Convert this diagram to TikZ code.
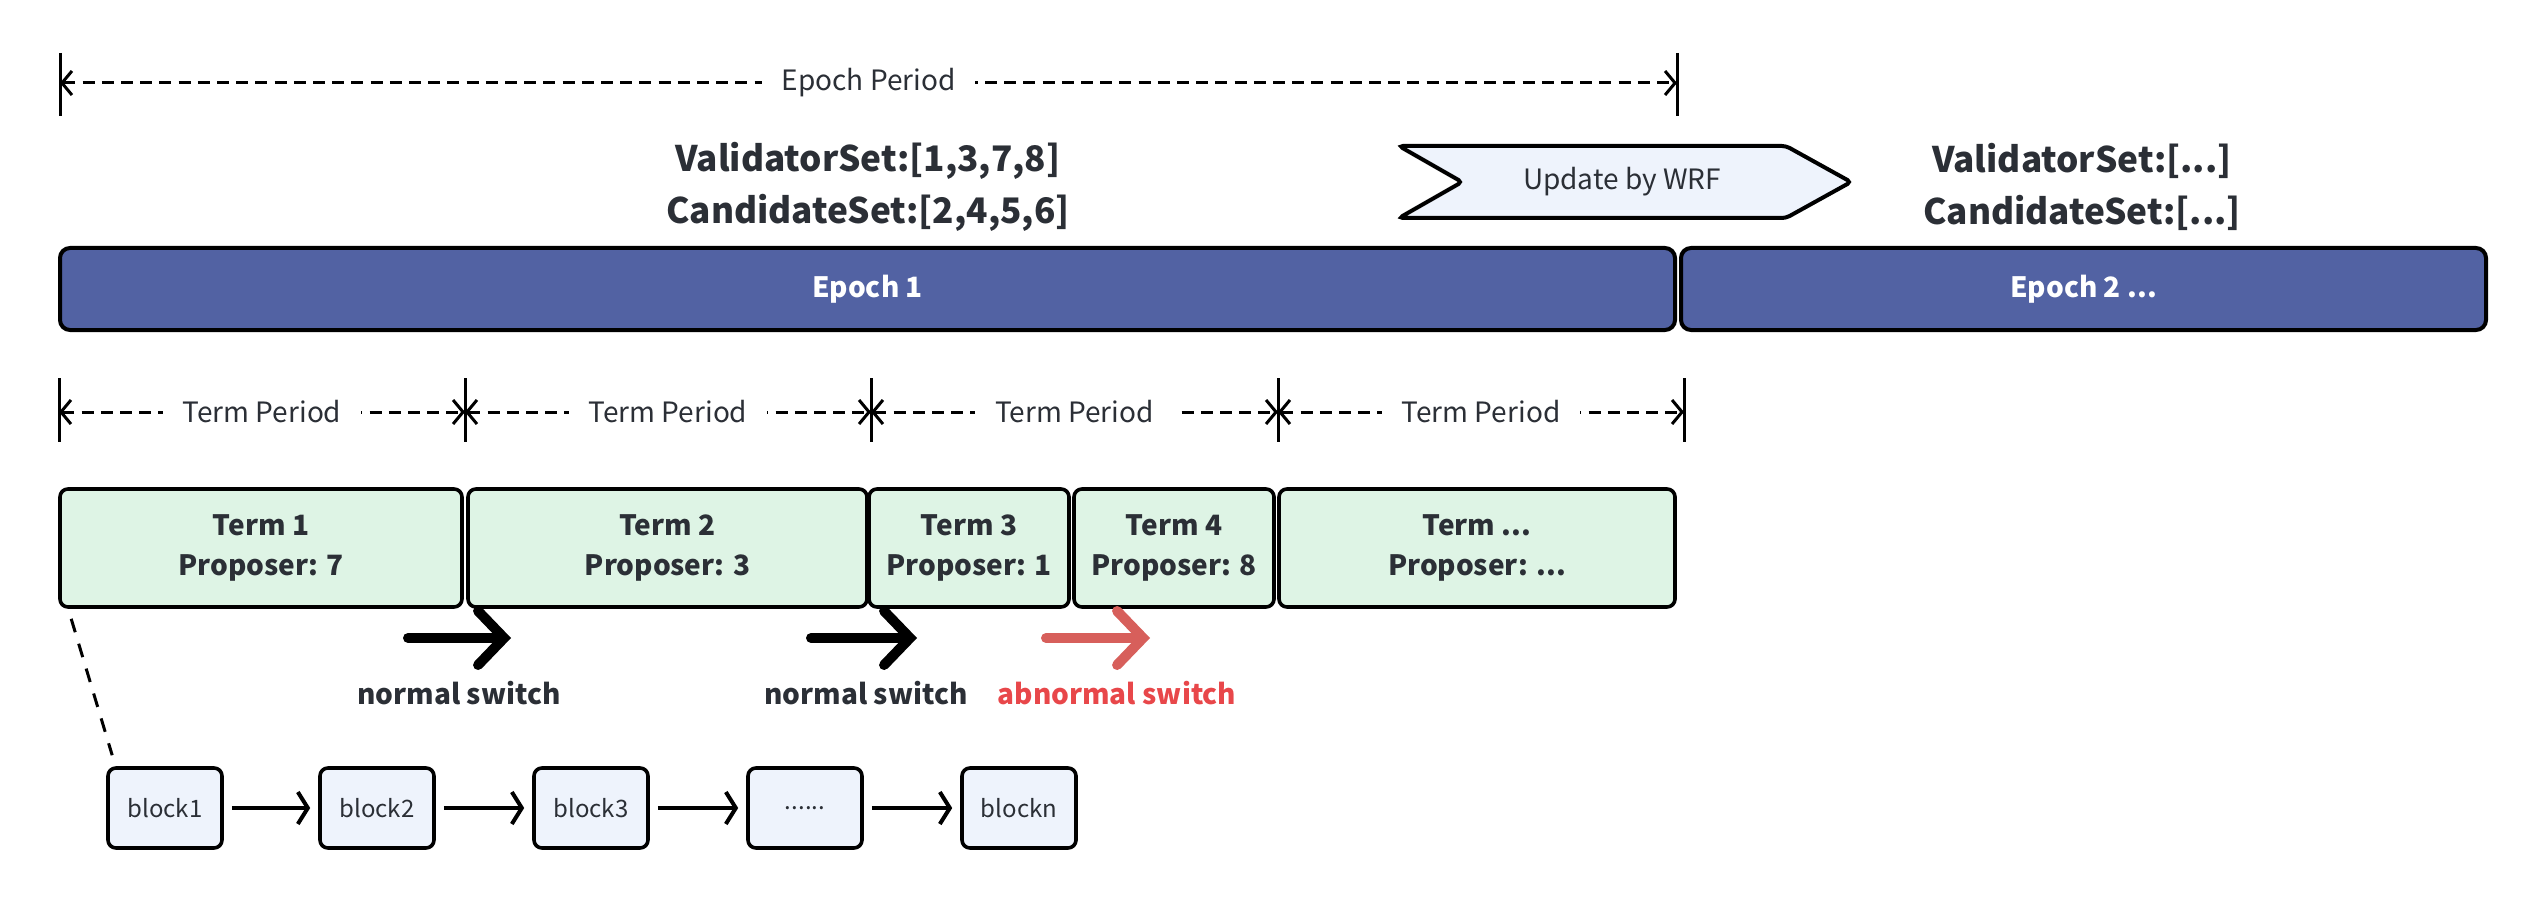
\documentclass[tikz,border=0pt]{standalone}
\usepackage{fontspec}
\setmainfont{Noto Sans CJK SC}
\usetikzlibrary{arrows.meta}
\definecolor{epochblue}{HTML}{5262A3}
\definecolor{termgreen}{HTML}{DEF4E5}
\definecolor{blockblue}{HTML}{EEF3FC}
\definecolor{textdark}{HTML}{2B2F36}
\definecolor{switchred}{HTML}{D75F5B}
\definecolor{labelred}{HTML}{E8474A}
\tikzset{
	epochbar/.style={draw, line width=1pt, rounded corners=2.5pt, fill=epochblue, text=white, font=\bfseries\fontsize{7}{9}\selectfont, minimum height=20.5pt, inner sep=0pt},
	termbox/.style={draw, line width=0.9pt, rounded corners=2pt, fill=termgreen, text=textdark, font=\bfseries\fontsize{7}{10}\selectfont, align=center, minimum height=29.5pt, inner sep=0pt},
	blockbox/.style={draw, line width=0.9pt, rounded corners=2pt, fill=blockblue, text=textdark, font=\fontsize{6}{7}\selectfont, minimum width=28.5pt, minimum height=20pt, inner sep=0pt},
	dimline/.style={line width=0.75pt, dash pattern=on 3pt off 1.8pt, {Straight Barb[length=2.5pt,width=6pt]}-{Straight Barb[length=2.5pt,width=6pt]}},
	dimlabel/.style={fill=white, text=textdark, font=\fontsize{7}{8}\selectfont, inner xsep=5pt, inner ysep=1pt},
	setlabel/.style={text=textdark, font=\bfseries\fontsize{8.8}{13}\selectfont, align=center},
	switcharrow/.style={line width=2.5pt, line cap=round, -{Straight Barb[length=6.5pt,width=13.5pt,line cap=round]}},
	switchlabel/.style={text=textdark, font=\bfseries\fontsize{7}{9}\selectfont},
	blockarrow/.style={line width=1pt, shorten <=2pt, shorten >=2pt, -{Straight Barb[length=2.5pt,width=8pt]}}
}
\begin{document}
\begin{tikzpicture}[x=0.25pt,y=-0.25pt]
	\useasboundingbox (0,0) rectangle (2536,898);
	\draw[line width=0.75pt] (60,53) -- (60,116) (1677,53) -- (1677,116);
	\coordinate (e0) at (60,83);
	\coordinate (e1) at (1677,83);
	\draw[dimline] (e0) -- node[dimlabel] (ep) {Epoch Period} (e1);
	\node[setlabel] (set1) at (868,187) {ValidatorSet:[1,3,7,8]\\CandidateSet:[2,4,5,6]};
	\node[setlabel] (set2) at (2082,187) {ValidatorSet:[...]\\CandidateSet:[...]};
	\draw[line width=1pt, rounded corners=1pt, fill=blockblue] (1399,146) -- (1786,146) -- (1851,182) -- (1786,218) -- (1399,218) -- (1462,182) -- cycle;
	\node[text=textdark, font=\fontsize{7}{8}\selectfont] (wrf) at (1622,182) {Update by WRF};
	\node[epochbar, minimum width=403.75pt] (ep1) at (867.5,289) {Epoch 1};
	\node[epochbar, minimum width=201.25pt] (ep2) at (2083.5,289) {Epoch 2 ...};
	\foreach \x/\n in {59/0, 465/1, 871/2, 1278/3, 1684/4} {
		\draw[line width=0.75pt] (\x,378) -- (\x,442);
		\coordinate (p\n) at (\x,412);
	}
	\foreach \a/\b in {0/1, 1/2, 2/3, 3/4}
		\draw[dimline] (p\a) -- node[dimlabel] {Term Period} (p\b);
	\node[termbox, minimum width=100.5pt] (t1) at (261,548) {Term 1\\Proposer: 7};
	\node[termbox, minimum width=99.75pt] (t2) at (667.5,548) {Term 2\\Proposer: 3};
	\node[termbox, minimum width=50pt] (t3) at (969,548) {Term 3\\Proposer: 1};
	\node[termbox, minimum width=50pt] (t4) at (1174,548) {Term 4\\Proposer: 8};
	\node[termbox, minimum width=99pt] (t5) at (1477,548) {Term ...\\Proposer: ...};
	\coordinate (s1a) at (408,638);
	\coordinate (s1b) at (511,638);
	\coordinate (s2a) at (811,638);
	\coordinate (s2b) at (917,638);
	\coordinate (s3a) at (1046,638);
	\coordinate (s3b) at (1150,638);
	\draw[switcharrow] (s1a) -- (s1b);
	\draw[switcharrow] (s2a) -- (s2b);
	\draw[switcharrow, switchred] (s3a) -- (s3b);
	\node[switchlabel] (n1) at (459,693) {normal switch};
	\node[switchlabel] (n2) at (866,693) {normal switch};
	\node[switchlabel, text=labelred] (n3) at (1117,693) {abnormal switch};
	\node[blockbox] (b1) at (165,808) {block1};
	\node[blockbox] (b2) at (377,808) {block2};
	\node[blockbox] (b3) at (591,808) {block3};
	\node[blockbox] (b4) at (805,808) {......};
	\node[blockbox] (b5) at (1019,808) {blockn};
	\draw[blockarrow] (b1) -- (b2);
	\draw[blockarrow] (b2) -- (b3);
	\draw[blockarrow] (b3) -- (b4);
	\draw[blockarrow] (b4) -- (b5);
	\draw[line width=0.75pt, dash pattern=on 3.5pt off 3pt] ([shift={(13,10)}]t1.south west) -- ([shift={(6,-11)}]b1.north west);
\end{tikzpicture}
\end{document}
